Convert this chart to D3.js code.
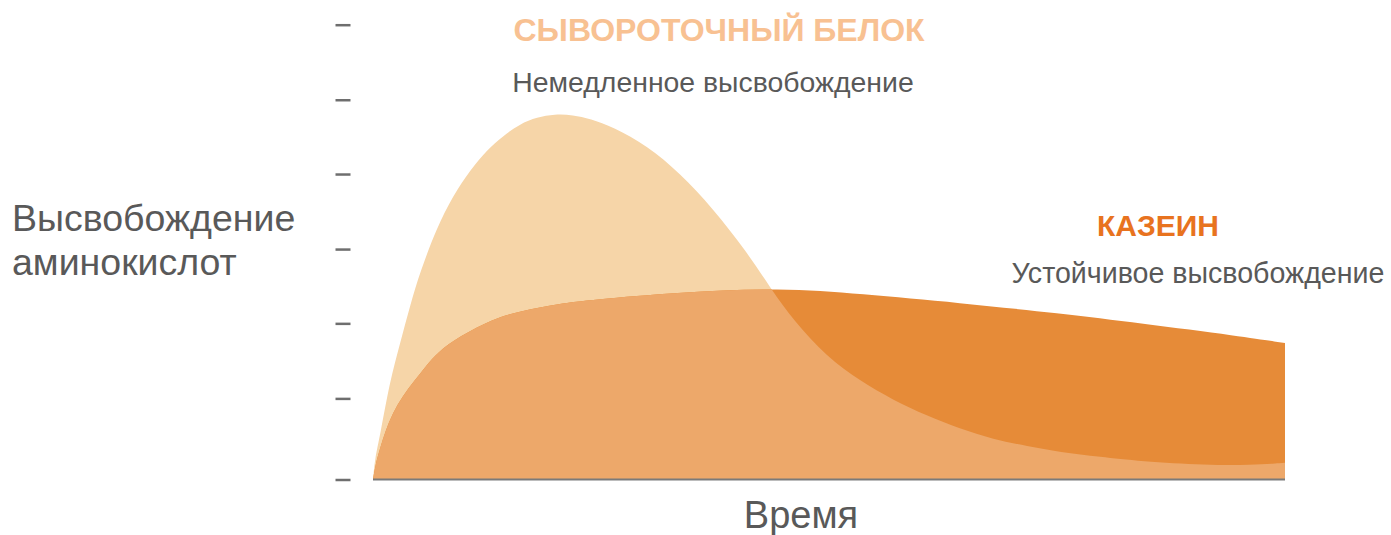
<!DOCTYPE html>
<html>
<head>
<meta charset="utf-8">
<script src="https://cdn.jsdelivr.net/npm/d3@7"></script>
<style>
  body { margin: 0; background: #fff; }
  svg text { font-family: "Liberation Sans", Arial, sans-serif; }
</style>
</head>
<body>
<svg id="chart" width="1391" height="535"></svg>
<script>
// time points (arbitrary units) and release levels
const wheyTime = [0, 0.026, 0.09, 0.22, 0.36, 0.49, 0.62, 0.84, 1.05, 1.28, 1.5, 1.71, 1.93, 2.16, 2.39, 2.63, 2.86, 3.16, 3.61, 4.04, 4.47, 4.92, 5.22, 5.53, 5.97, 6.41, 6.84, 7.29, 7.72, 8.16, 8.61, 9.04, 9.57, 10.09, 10.97, 11.54, 12];
const wheyValues = [0, 0.28, 0.56, 1.29, 1.81, 2.3, 2.74, 3.32, 3.74, 4.08, 4.35, 4.53, 4.69, 4.78, 4.82, 4.81, 4.76, 4.65, 4.4, 4.04, 3.58, 3.0, 2.54, 2.1, 1.62, 1.3, 1.05, 0.84, 0.67, 0.53, 0.44, 0.36, 0.3, 0.24, 0.19, 0.19, 0.22];

const caseinTime = [0, 0.04, 0.09, 0.16, 0.26, 0.39, 0.55, 0.71, 0.84, 1.14, 1.58, 1.93, 2.46, 2.86, 4.04, 5.36, 6.41, 7.72, 9.04, 10.09, 11.41, 12];
const caseinValues = [0, 0.23, 0.4, 0.63, 0.88, 1.1, 1.31, 1.51, 1.67, 1.89, 2.12, 2.22, 2.32, 2.37, 2.47, 2.53, 2.45, 2.33, 2.19, 2.06, 1.89, 1.8];

const yTicks = [0, 1.07, 2.06, 3.04, 4.03, 5.01, 6];

const whey = wheyTime.map((t, i) => ({ t, v: wheyValues[i] }));
const casein = caseinTime.map((t, i) => ({ t, v: caseinValues[i] }));

const svg = d3.select('#chart');

const x = d3.scaleLinear().domain([0, 12]).range([373, 1285]);
const y = d3.scaleLinear().domain([0, 6]).range([479.5, 24.7]);

const area = d3.area()
  .curve(d3.curveBasis)
  .x(d => x(d.t))
  .y0(y(0))
  .y1(d => y(d.v));

// clip for the overlap of the two areas
svg.append('defs')
  .append('clipPath')
  .attr('id', 'caseinClip')
  .append('path')
  .attr('d', area(casein));

svg.append('path')
  .attr('d', area(whey))
  .attr('fill', '#f6d5a8');

svg.append('path')
  .attr('d', area(casein))
  .attr('fill', '#e68b38');

svg.append('path')
  .attr('d', area(whey))
  .attr('clip-path', 'url(#caseinClip)')
  .attr('fill', '#eda86a');

// baseline
svg.append('line')
  .attr('x1', x(0)).attr('x2', x(12))
  .attr('y1', y(0)).attr('y2', y(0))
  .attr('stroke', '#7a7a7a')
  .attr('stroke-width', 2);

// y axis: bare tick dashes, no labels
const yAxis = d3.axisLeft(y)
  .tickValues(yTicks)
  .tickSize(15)
  .tickFormat('');

const gy = svg.append('g')
  .attr('transform', 'translate(350.5,0)')
  .call(yAxis);
gy.select('.domain').remove();
gy.selectAll('.tick line')
  .attr('stroke', '#6e6e6e')
  .attr('stroke-width', 2.5);

// labels
svg.append('text')
  .attr('x', 719).attr('y', 41)
  .attr('text-anchor', 'middle')
  .attr('font-size', 32).attr('font-weight', 'bold')
  .attr('fill', '#f8c192')
  .text('СЫВОРОТОЧНЫЙ БЕЛОК');

svg.append('text')
  .attr('x', 713).attr('y', 92)
  .attr('text-anchor', 'middle')
  .attr('font-size', 28.4)
  .attr('fill', '#595959')
  .text('Немедленное высвобождение');

svg.append('text')
  .attr('x', 1158).attr('y', 236)
  .attr('text-anchor', 'middle')
  .attr('font-size', 30).attr('font-weight', 'bold')
  .attr('fill', '#e8731f')
  .text('КАЗЕИН');

svg.append('text')
  .attr('x', 1198).attr('y', 283)
  .attr('text-anchor', 'middle')
  .attr('font-size', 28.6)
  .attr('fill', '#595959')
  .text('Устойчивое высвобождение');

svg.append('text')
  .attr('x', 12).attr('y', 231)
  .attr('font-size', 37.5)
  .attr('fill', '#595959')
  .text('Высвобождение');

svg.append('text')
  .attr('x', 12).attr('y', 275)
  .attr('font-size', 37.5)
  .attr('fill', '#595959')
  .text('аминокислот');

svg.append('text')
  .attr('x', 801).attr('y', 528)
  .attr('text-anchor', 'middle')
  .attr('font-size', 38)
  .attr('fill', '#595959')
  .text('Время');
</script>
</body>
</html>
